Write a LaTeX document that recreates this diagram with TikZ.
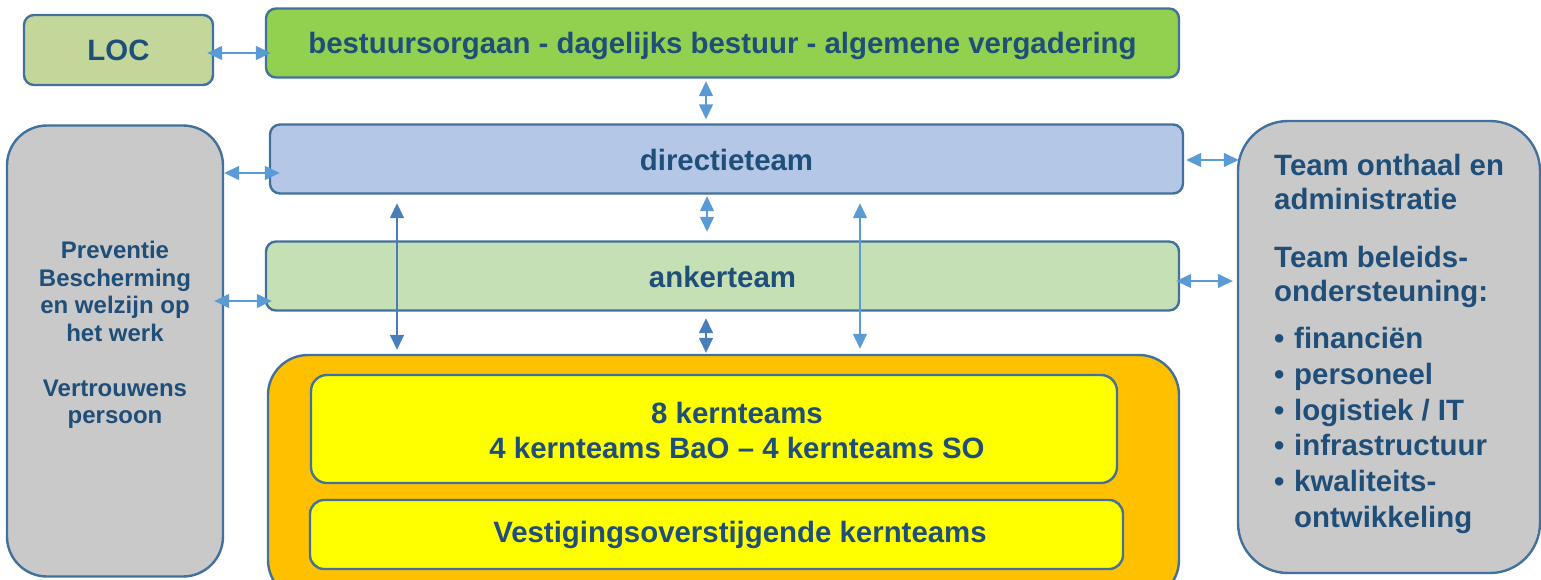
\documentclass[tikz,border=0pt]{standalone}
\usepackage{fontspec}
\setmainfont{Liberation Sans}
\usetikzlibrary{arrows.meta}

\definecolor{rand}{HTML}{41719C}
\definecolor{tekst}{HTML}{1F4E79}
\definecolor{pijl}{HTML}{5B9BD5}
\definecolor{pijldonker}{HTML}{4A7EBB}
\definecolor{locgroen}{HTML}{C4D79B}
\definecolor{bestgroen}{HTML}{92D050}
\definecolor{dirblauw}{HTML}{B4C7E7}
\definecolor{ankgroen}{HTML}{C5E0B4}
\definecolor{grijs}{HTML}{C9C9C9}
\definecolor{oranje}{HTML}{FFC000}
\definecolor{geel}{HTML}{FFFF00}

\tikzset{
  box/.style={draw=rand, line width=2.4pt, rounded corners=10pt, inner sep=0pt,
    text=tekst, font=\bfseries\fontsize{29.4}{34}\selectfont},
  txt/.style={inner sep=0pt, text=tekst, font=\bfseries\fontsize{29.4}{35}\selectfont},
  link/.style={{Triangle[length=15pt,width=14pt]}-{Triangle[length=15pt,width=14pt]},
    draw=pijl, line width=1.4pt},
  linkdark/.style={link, draw=pijldonker, line width=1.6pt},
}

\begin{document}
\begin{tikzpicture}[x=1pt, y=-1pt]
    \useasboundingbox (0,0) rectangle (1541,579);

    % bestuur
    \node[box, fill=locgroen, minimum width=189pt, minimum height=70pt] (loc) at (118.5,50) {LOC};
    \node[box, fill=bestgroen, minimum width=913pt, minimum height=69pt] (bestuur) at (722.5,43)
        {\raisebox{-3pt}[\height][\depth]{bestuursorgaan - dagelijks bestuur - algemene vergadering}};

    % teams in het midden
    \node[box, fill=dirblauw, minimum width=913pt, minimum height=69pt] (directie) at (726.5,159)
        {\raisebox{-1pt}[\height][\depth]{directieteam}};
    \node[box, fill=ankgroen, minimum width=913pt, minimum height=69pt] (anker) at (722.5,276)
        {\raisebox{-1pt}[\height][\depth]{ankerteam}};

    % zijkanten
    \node[box, fill=grijs, rounded corners=40pt, minimum width=216pt, minimum height=451pt] (pbw) at (115,351) {};
    \node[txt, align=center, font=\bfseries\fontsize{24}{27.5}\selectfont] (pbwtxt) at (115,335)
        {Preventie\\Bescherming\\en welzijn op\\het werk\\[27.5pt]Vertrouwens\\persoon};
    \node[box, fill=grijs, rounded corners=50pt, minimum width=302pt, minimum height=452pt] (steun) at (1389,347) {};
    \node[txt, align=left, anchor=north west, font=\bfseries\fontsize{29.4}{33.5}\selectfont] (steuntop) at (1274,154)
        {Team onthaal en\\administratie\\[25pt]Team beleids-\\ondersteuning:};
    \node[txt, align=left, anchor=north west, font=\bfseries\fontsize{29.4}{35.8}\selectfont] (steunlijst) at (1274,327)
        {\makebox[20pt][l]{\textbullet}financiën\\
         \makebox[20pt][l]{\textbullet}personeel\\
         \makebox[20pt][l]{\textbullet}logistiek / IT\\
         \makebox[20pt][l]{\textbullet}infrastructuur\\
         \makebox[20pt][l]{\textbullet}kwaliteits-\\
         \hspace*{20pt}ontwikkeling};

    % kernteams
    \node[box, fill=oranje, rounded corners=40pt, minimum width=911pt, minimum height=245pt] (org) at (723.5,477.5) {};
    \node[box, fill=geel, rounded corners=16pt, minimum width=806pt, minimum height=108pt] (kern) at (714,429) {};
    \node[txt, align=center] (kerntxt) at (737,430) {8 kernteams\\4 kernteams BaO – 4 kernteams SO};
    \node[box, fill=geel, rounded corners=14pt, minimum width=813pt, minimum height=69pt] (vest) at (716.5,534.5) {};
    \node[txt] (vesttxt) at (740,535) {Vestigingsoverstijgende kernteams};

    % pijlen
    \draw[link, shorten <=-7pt, shorten >=-6pt] ([yshift=-3pt]loc.east) -- ([yshift=-3pt]loc.east -| bestuur.west);
    \draw[link, shorten <=2.5pt, shorten >=4pt] ([xshift=-16.5pt]bestuur.south) -- ([xshift=-16.5pt]bestuur.south |- directie.north);
    \draw[link, shorten >=-11pt] ([yshift=-14pt]directie.west -| pbw.east) -- ([yshift=-14pt]directie.west);
    \draw[link, shorten <=-10pt, shorten >=-7pt] ([yshift=-25pt]anker.west -| pbw.east) -- ([yshift=-25pt]anker.west);
    \draw[link, shorten <=2pt, shorten >=-2pt] ([yshift=-1pt]directie.east) -- ([yshift=-1pt]directie.east -| steun.west);
    \draw[link, shorten <=-4pt, shorten >=4pt] ([yshift=-5pt]anker.east) -- ([yshift=-5pt]anker.east -| steun.west);
    \draw[link, shorten <=1.5pt, shorten >=8.5pt] ([xshift=-19.5pt]directie.south) -- ([xshift=-19.5pt]directie.south |- anker.north);
    \draw[linkdark, shorten <=6.5pt, shorten >=1pt] ([xshift=-16.5pt]anker.south) -- ([xshift=-16.5pt]anker.south |- org.north);
    \draw[linkdark, shorten <=8.5pt, shorten >=4pt] ([xshift=-329.5pt]directie.south) -- ([xshift=-329.5pt]directie.south |- org.north);
    \draw[link, shorten <=8.5pt, shorten >=5pt] ([xshift=133.5pt]directie.south) -- ([xshift=133.5pt]directie.south |- org.north);
\end{tikzpicture}
\end{document}
